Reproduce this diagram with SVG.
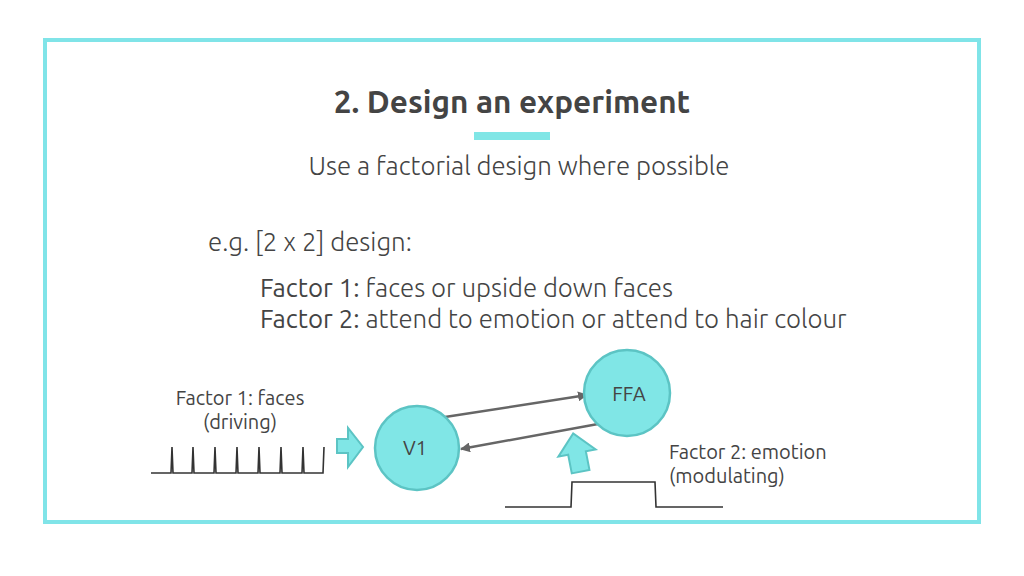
<svg xmlns="http://www.w3.org/2000/svg" width="1024" height="576" viewBox="0 0 1024 576">
<style>
.t{font-family:"Ubuntu","Open Sans","Liberation Sans",sans-serif;fill:#444}
.light{font-weight:300}
.node{fill:#80e6e6;stroke:#5cc4c4;stroke-width:2.5}
.blk{fill:#80e6e6;stroke:#5cc4c4;stroke-width:2}
.conn{stroke:#666;stroke-width:2.5;fill:none}
.sig{stroke:#333;stroke-width:1.6;fill:none}
</style>
<defs>
<marker id="ah" viewBox="0 0 10 10" refX="9" refY="5" markerWidth="4" markerHeight="4" orient="auto" markerUnits="strokeWidth">
<path d="M0,0 L10,5 L0,10 z" fill="#666"/>
</marker>
</defs>
<rect width="1024" height="576" fill="#fff"/>
<rect x="45" y="40" width="934" height="482" fill="none" stroke="#80e4e8" stroke-width="4"/>
<text class="t" x="512" y="113" text-anchor="middle" font-size="31.5" font-weight="700">2. Design an experiment</text>
<rect x="474" y="132" width="76" height="8" fill="#80e6e6"/>
<text class="t light" x="519" y="175" text-anchor="middle" font-size="25.8">Use a factorial design where possible</text>
<text class="t light" x="208" y="251" font-size="25.8">e.g. [2 x 2] design:</text>
<text class="t" x="260" y="297" font-size="25.8"><tspan>Factor 1:</tspan><tspan class="light"> faces or upside down faces</tspan></text>
<text class="t" x="260" y="328" font-size="25.8"><tspan>Factor 2:</tspan><tspan class="light"> attend to emotion or attend to hair colour</tspan></text>
<g id="connectors">
<line class="conn" x1="445" y1="417" x2="587" y2="395" marker-end="url(#ah)"/>
<line class="conn" x1="598" y1="424" x2="461" y2="449" marker-end="url(#ah)"/>
</g>
<g id="v1">
<circle class="node" cx="417" cy="448" r="42"/>
<text class="t" x="415" y="455" text-anchor="middle" font-size="20" fill="#555">V1</text>
</g>
<g id="ffa">
<circle class="node" cx="627" cy="393" r="43"/>
<text class="t" x="629" y="401" text-anchor="middle" font-size="20" fill="#555">FFA</text>
</g>
<g id="input-arrow">
<path class="blk" d="M337,439 L348,439 L348,428 L363,447 L348,467 L348,453 L337,453 Z"/>
</g>
<g id="mod-arrow">
<path class="blk" transform="translate(577,453) rotate(-11)" d="M-9,19 L9,19 L9,0 L19,0 L0,-20 L-19,0 L-9,0 Z"/>
</g>
<g id="driving">
<text class="t" x="240" y="405" text-anchor="middle" font-size="20" fill="#222">Factor 1: faces</text>
<text class="t" x="240" y="429" text-anchor="middle" font-size="20" fill="#222">(driving)</text>
<path class="sig" d="M151,473 H171 L172,447 L173,473 H192 L193,447 L194,473 H214 L215,447 L216,473 H236 L237,447 L238,473 H258 L259,447 L260,473 H280 L281,447 L282,473 H302 L303,447 L304,473 H323 L324,447"/>
</g>
<g id="modulating">
<text class="t" x="669" y="459" font-size="20" fill="#222">Factor 2: emotion</text>
<text class="t" x="669" y="483" font-size="20" fill="#222">(modulating)</text>
<path class="sig" d="M505,507 H571 L572,482 H655 L656,507 H723"/>
</g>
</svg>
